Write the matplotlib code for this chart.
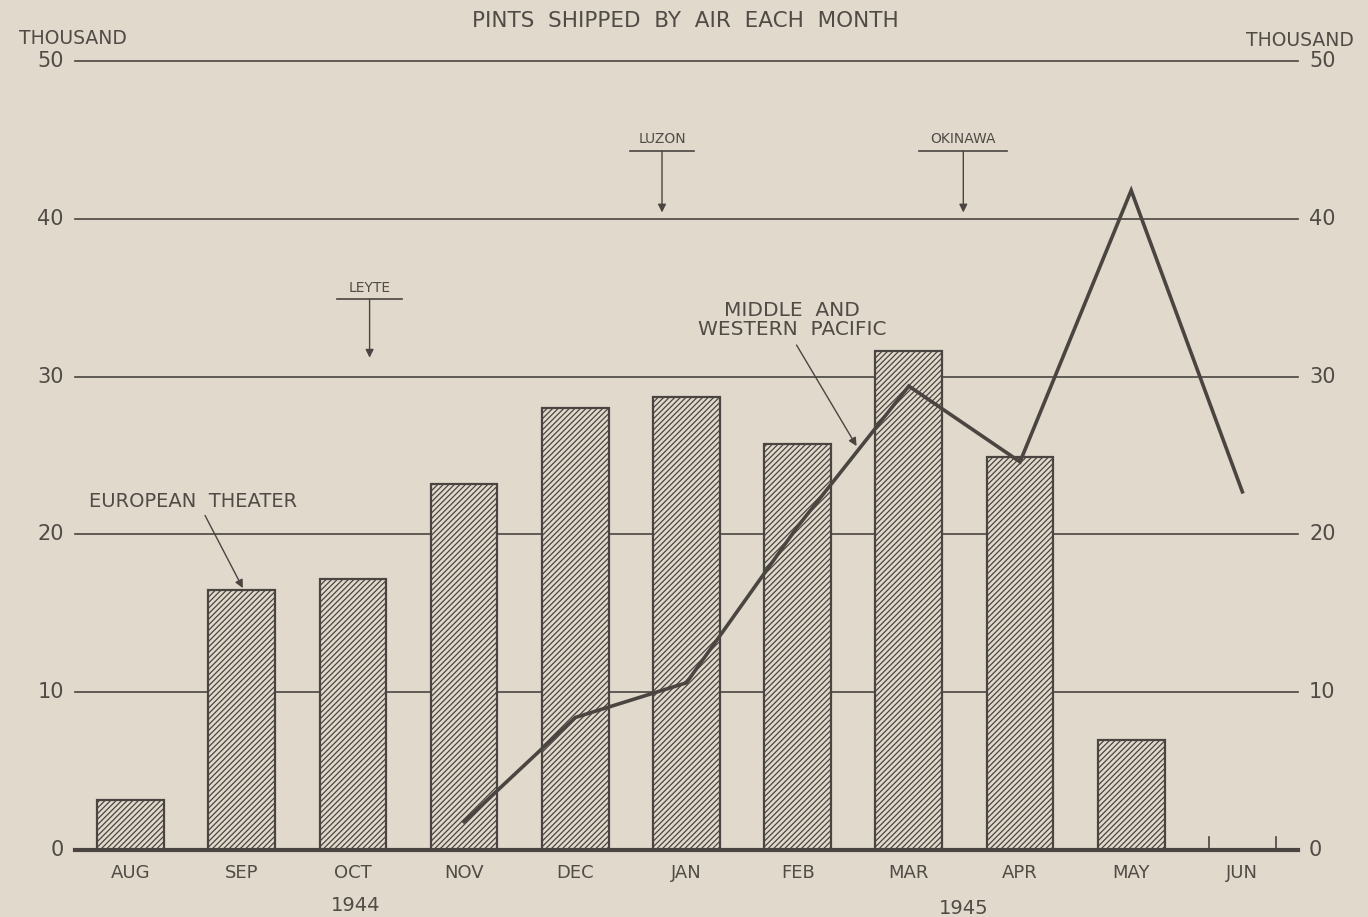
import matplotlib
matplotlib.use("Agg")
import matplotlib.pyplot as plt

months = ["AUG", "SEP", "OCT", "NOV", "DEC", "JAN", "FEB", "MAR", "APR", "MAY", "JUN"]
# European theater, thousand pints (bars)
european = [3.2, 16.5, 17.2, 23.2, 28.0, 28.7, 25.7, 31.6, 24.9, 7.0, None]
# Middle and Western Pacific, thousand pints (line), NOV through JUN
pacific_months = ["NOV", "DEC", "JAN", "FEB", "MAR", "APR", "MAY", "JUN"]
pacific = [1.8, 8.4, 10.6, 20.5, 29.4, 24.6, 41.8, 22.7]
y_ticks = [0, 10, 20, 30, 40, 50]
# campaign markers: (name, month position, label height, arrow tip)
events = [("LEYTE", 2.15, 35.2, 31.2), ("LUZON", 4.78, 44.6, 40.4), ("OKINAWA", 7.49, 44.6, 40.4)]

BG = "#e0d9cc"
INK = "#4b4541"
TXT = "#514b46"

plt.rcParams["hatch.color"] = INK
plt.rcParams["hatch.linewidth"] = 0.9
plt.rcParams["font.family"] = ["DejaVu Sans"]

fig = plt.figure(figsize=(13.68, 9.17), dpi=100, facecolor=BG)
ax = fig.add_axes([0.0548, 0.073, 0.894, 0.8605])
ax.set_facecolor(BG)
ax.set_xlim(-0.5, 10.5)
ax.set_ylim(0, 50)
for s in ax.spines.values():
    s.set_visible(False)
ax.set_xticks([])
ax.set_yticks([])

# horizontal rules
for v in y_ticks[1:]:
    ax.axhline(v, color=INK, lw=1.2, zorder=1, clip_on=False)
ax.axhline(0, color=INK, lw=3.0, zorder=4, clip_on=False)

x = list(range(len(months)))
for xi, v in zip(x, european):
    if v is None:
        continue
    ax.bar(xi, v, width=0.6, facecolor=BG, edgecolor=INK, lw=1.6,
           hatch="//////", zorder=2)

# small ticks marking the empty JUN slot
jun = months.index("JUN")
for dx in (-0.3, 0.3):
    ax.plot([jun + dx, jun + dx], [0, 0.8], color=INK, lw=1.2, zorder=4)

px = [months.index(m) for m in pacific_months]
ax.plot(px, pacific, color=INK, lw=2.6, zorder=5, solid_joinstyle="miter")

# tick labels on both sides
for v in y_ticks:
    ax.text(-0.6, v, str(v), ha="right", va="center", fontsize=15, color=TXT)
    ax.text(10.6, v, str(v), ha="left", va="center", fontsize=15, color=TXT)
for xi, m in zip(x, months):
    ax.text(xi, -0.9, m, ha="center", va="top", fontsize=13, color=TXT)
ax.text(2.02, -2.9, "1944", ha="center", va="top", fontsize=14, color=TXT)
ax.text(7.49, -3.1, "1945", ha="center", va="top", fontsize=14, color=TXT)

fig.text(0.0535, 0.958, "THOUSAND", ha="center", va="center", fontsize=13.5, color=TXT)
fig.text(0.950, 0.956, "THOUSAND", ha="center", va="center", fontsize=13.5, color=TXT)
fig.text(0.501, 0.977, "PINTS  SHIPPED  BY  AIR  EACH  MONTH", ha="center", va="center",
         fontsize=15.5, color=TXT)

arrow = dict(arrowstyle="-|>", color=INK, lw=1.0, mutation_scale=12, shrinkA=0, shrinkB=0)

# campaign arrows
for name, xe, ly, tip in events:
    ax.text(xe, ly, name, ha="center", va="bottom", fontsize=10, color=TXT)
    half = 0.052 * len(name) + 0.03
    ax.plot([xe - half, xe + half], [ly - 0.3, ly - 0.3], color=INK, lw=1.2)
    ax.annotate("", xy=(xe, tip), xytext=(xe, ly - 0.3), arrowprops=arrow)

ax.text(0.56, 22.1, "EUROPEAN  THEATER", ha="center", va="center", fontsize=14, color=TXT)
ax.annotate("", xy=(1.01, 16.6), xytext=(0.67, 21.2), arrowprops=arrow)

ax.text(5.95, 33.6, "MIDDLE  AND\nWESTERN  PACIFIC", ha="center", va="center",
        fontsize=14.5, color=TXT, linespacing=1.0)
ax.annotate("", xy=(6.53, 25.6), xytext=(5.99, 32.0), arrowprops=arrow)

fig.savefig("out.png", dpi=100, facecolor=BG)
